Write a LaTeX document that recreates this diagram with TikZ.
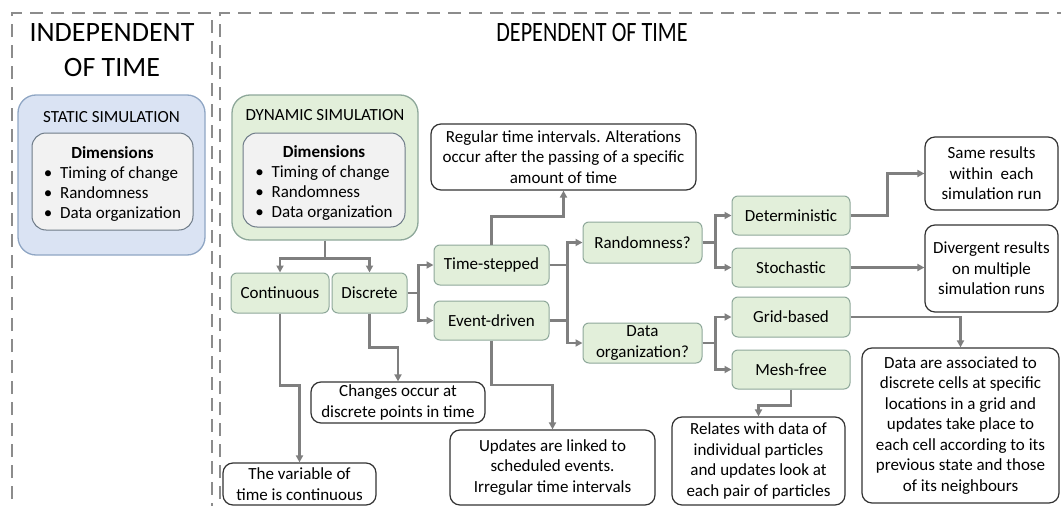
\documentclass[tikz,border=0pt]{standalone}
\usepackage{fontspec}
\setmainfont{Carlito}
\usetikzlibrary{arrows.meta,calc}
\definecolor{conncol}{HTML}{7F7F7F}
\definecolor{greenfill}{HTML}{E2EFDA}
\definecolor{greenline}{HTML}{8EA89A}
\definecolor{bluefill}{HTML}{DAE3F3}
\definecolor{blueline}{HTML}{8FA6C4}
\definecolor{grayfill}{HTML}{F2F2F2}
\definecolor{grayline}{HTML}{6E7B88}
\definecolor{dashcol}{HTML}{8C8C8C}
\begin{document}
\begin{tikzpicture}[x=1pt,y=-1pt,
  frame/.style={draw=dashcol,line width=2pt,dash pattern=on 13pt off 8pt},
  bigtitle/.style={font=\fontsize{28}{35}\selectfont,align=center,inner sep=0pt},
  outerbox/.style={draw=#1,line width=1.3pt,rounded corners=18pt,inner sep=0pt},
  innerbox/.style={draw=grayline,fill=grayfill,line width=1pt,rounded corners=14pt,inner sep=0pt},
  dimtext/.style={inner sep=0pt,font=\fontsize{17}{20}\selectfont},
  boxtitle/.style={font=\fontsize{17}{20}\selectfont,inner sep=0pt},
  gbox/.style={draw=greenline,fill=greenfill,line width=1pt,rounded corners=6pt,inner sep=0pt,
     align=center,font=\fontsize{17}{20.5}\selectfont},
  wbox/.style={draw=black!80,fill=white,line width=1.2pt,rounded corners=10pt,inner sep=0pt,
     align=center,font=\fontsize{17}{20.5}\selectfont},
  conn/.style={draw=conncol,line width=2.4pt,-{Triangle[length=7pt,width=7pt]}},
  line/.style={draw=conncol,line width=2.4pt}
]
\useasboundingbox (0,0) rectangle (1061,506);
% frames
\draw[frame] (12,520) -- (12,13) -- (212,13) -- (212,520);
\draw[frame] (220,520) -- (220,13) -- (1075,13);
% titles
\node[bigtitle] (indep) at (112,50) {INDEPENDENT\\OF TIME};
\node[bigtitle] (dep) at (592,33) {\scalebox{0.79}[1]{DEPENDENT OF TIME}};
% static
\node[outerbox=blueline,fill=bluefill,minimum width=187pt,minimum height=160pt] (static) at (111.5,175) {};
\node[boxtitle] (stattitle) at (111.5,117) {STATIC SIMULATION};
\node[innerbox,minimum width=161pt,minimum height=97pt] (statdim) at (112.5,181.5) {};
\node[dimtext] (statdimtext) at (112.5,184.5)
  {\begin{tabular}{@{}l@{}}\multicolumn{1}{c}{\textbf{Dimensions}}\\
   \textbullet\ \ Timing of change\\ \textbullet\ \ Randomness\\ \textbullet\ \ Data organization\end{tabular}};
% dynamic
\node[outerbox=greenline,fill=greenfill,minimum width=186pt,minimum height=145pt] (dyn) at (325,167.5) {};
\node[boxtitle] (dyntitle) at (325,115) {DYNAMIC SIMULATION};
\node[innerbox,minimum width=162pt,minimum height=94pt] (dyndim) at (324,180) {};
\node[dimtext] (dyndimtext) at (324,183.5)
  {\begin{tabular}{@{}l@{}}\multicolumn{1}{c}{\textbf{Dimensions}}\\
   \textbullet\ \ Timing of change\\ \textbullet\ \ Randomness\\ \textbullet\ \ Data organization\end{tabular}};
% green nodes
\node[gbox,minimum width=98pt,minimum height=40pt] (cont) at (280,293) {Continuous};
\node[gbox,minimum width=75pt,minimum height=40pt] (disc) at (369.5,293) {Discrete};
\node[gbox,minimum width=115pt,minimum height=40pt] (ts) at (491.5,265) {Time-stepped};
\node[gbox,minimum width=115pt,minimum height=39pt] (ev) at (491.5,320.5) {Event-driven};
\node[gbox,minimum width=119pt,minimum height=41pt] (rand) at (642.5,242.5) {Randomness?};
\node[gbox,minimum width=119pt,minimum height=40pt] (dorg) at (642.5,343) {Data\\organization?};
\node[gbox,minimum width=118pt,minimum height=39pt] (det) at (791,215.5) {Deterministic};
\node[gbox,minimum width=118pt,minimum height=39pt] (sto) at (791,267.5) {Stochastic};
\node[gbox,minimum width=118pt,minimum height=40pt] (grid) at (791,317) {Grid-based};
\node[gbox,minimum width=118pt,minimum height=39pt] (mesh) at (791,369.5) {Mesh-free};
% white nodes
\node[wbox,minimum width=265pt,minimum height=66pt] (reg) at (563.5,157)
  {Regular time intervals. Alterations\\occur after the passing of a specific\\amount of time};
\node[wbox,minimum width=133pt,minimum height=73pt] (same) at (991.5,173.5)
  {Same results\\within\ \ each\\simulation run};
\node[wbox,minimum width=133pt,minimum height=87pt] (div) at (991.5,268.5)
  {Divergent results\\on multiple\\simulation runs};
\node[wbox,minimum width=197pt,minimum height=155pt] (dare) at (960.5,425.5)
  {Data are associated to\\discrete cells at specific\\locations in a grid and\\updates take place to\\each cell according to its\\previous state and those\\of its neighbours};
\node[wbox,minimum width=173pt,minimum height=88pt] (rel) at (758.5,461)
  {Relates with data of\\individual particles\\and updates look at\\each pair of particles};
\node[wbox,minimum width=205pt,minimum height=75pt] (upd) at (552.5,467.5)
  {Updates are linked to\\scheduled events.\\Irregular time intervals};
\node[wbox,minimum width=174pt,minimum height=41pt] (chg) at (398,402.5)
  {Changes occur at\\discrete points in time};
\node[wbox,minimum width=153pt,minimum height=42pt] (var) at (299.5,484)
  {The variable of\\time is continuous};
% connectors
\draw[conn] (dyn.south) -- ++(0,18) -| (cont.north);
\draw[conn] (dyn.south) -- ++(0,18) -| (disc.north);
\draw[conn] (cont.south) -- ++(0,72) -| (var.north);
\draw[conn] (disc.south) -- ++(0,34) -| (chg.north);
\draw[conn] (disc.east) -- ++(11,0) |- (ts.west);
\draw[conn] (disc.east) -- ++(11,0) |- (ev.west);
\draw[conn] (ts.north) -- ++(0,-28) -| (reg.south);
\draw[conn] (ev.south) -- ++(0,44.5) -| (upd.north);
\draw[conn] (ts.east) -- ++(18,0) |- (rand.west);
\draw[conn] (ts.east) -- ++(18,0) |- (dorg.west);
\draw[line] (ev.east) -- ++(18,0);
\draw[conn] (rand.east) -- ++(13,0) |- (det.west);
\draw[conn] (rand.east) -- ++(13,0) |- (sto.west);
\draw[conn] (dorg.east) -- ++(13,0) |- (grid.west);
\draw[conn] (dorg.east) -- ++(13,0) |- (mesh.west);
\draw[conn] (det.east) -- ++(37,0) |- (same.west);
\draw[conn] (sto.east) -- (sto.east -| div.west);
\draw[conn] (grid.east) -| (dare.north);
\draw[conn] (mesh.south) -- ++(0,16) -| (rel.north);
\end{tikzpicture}
\end{document}
